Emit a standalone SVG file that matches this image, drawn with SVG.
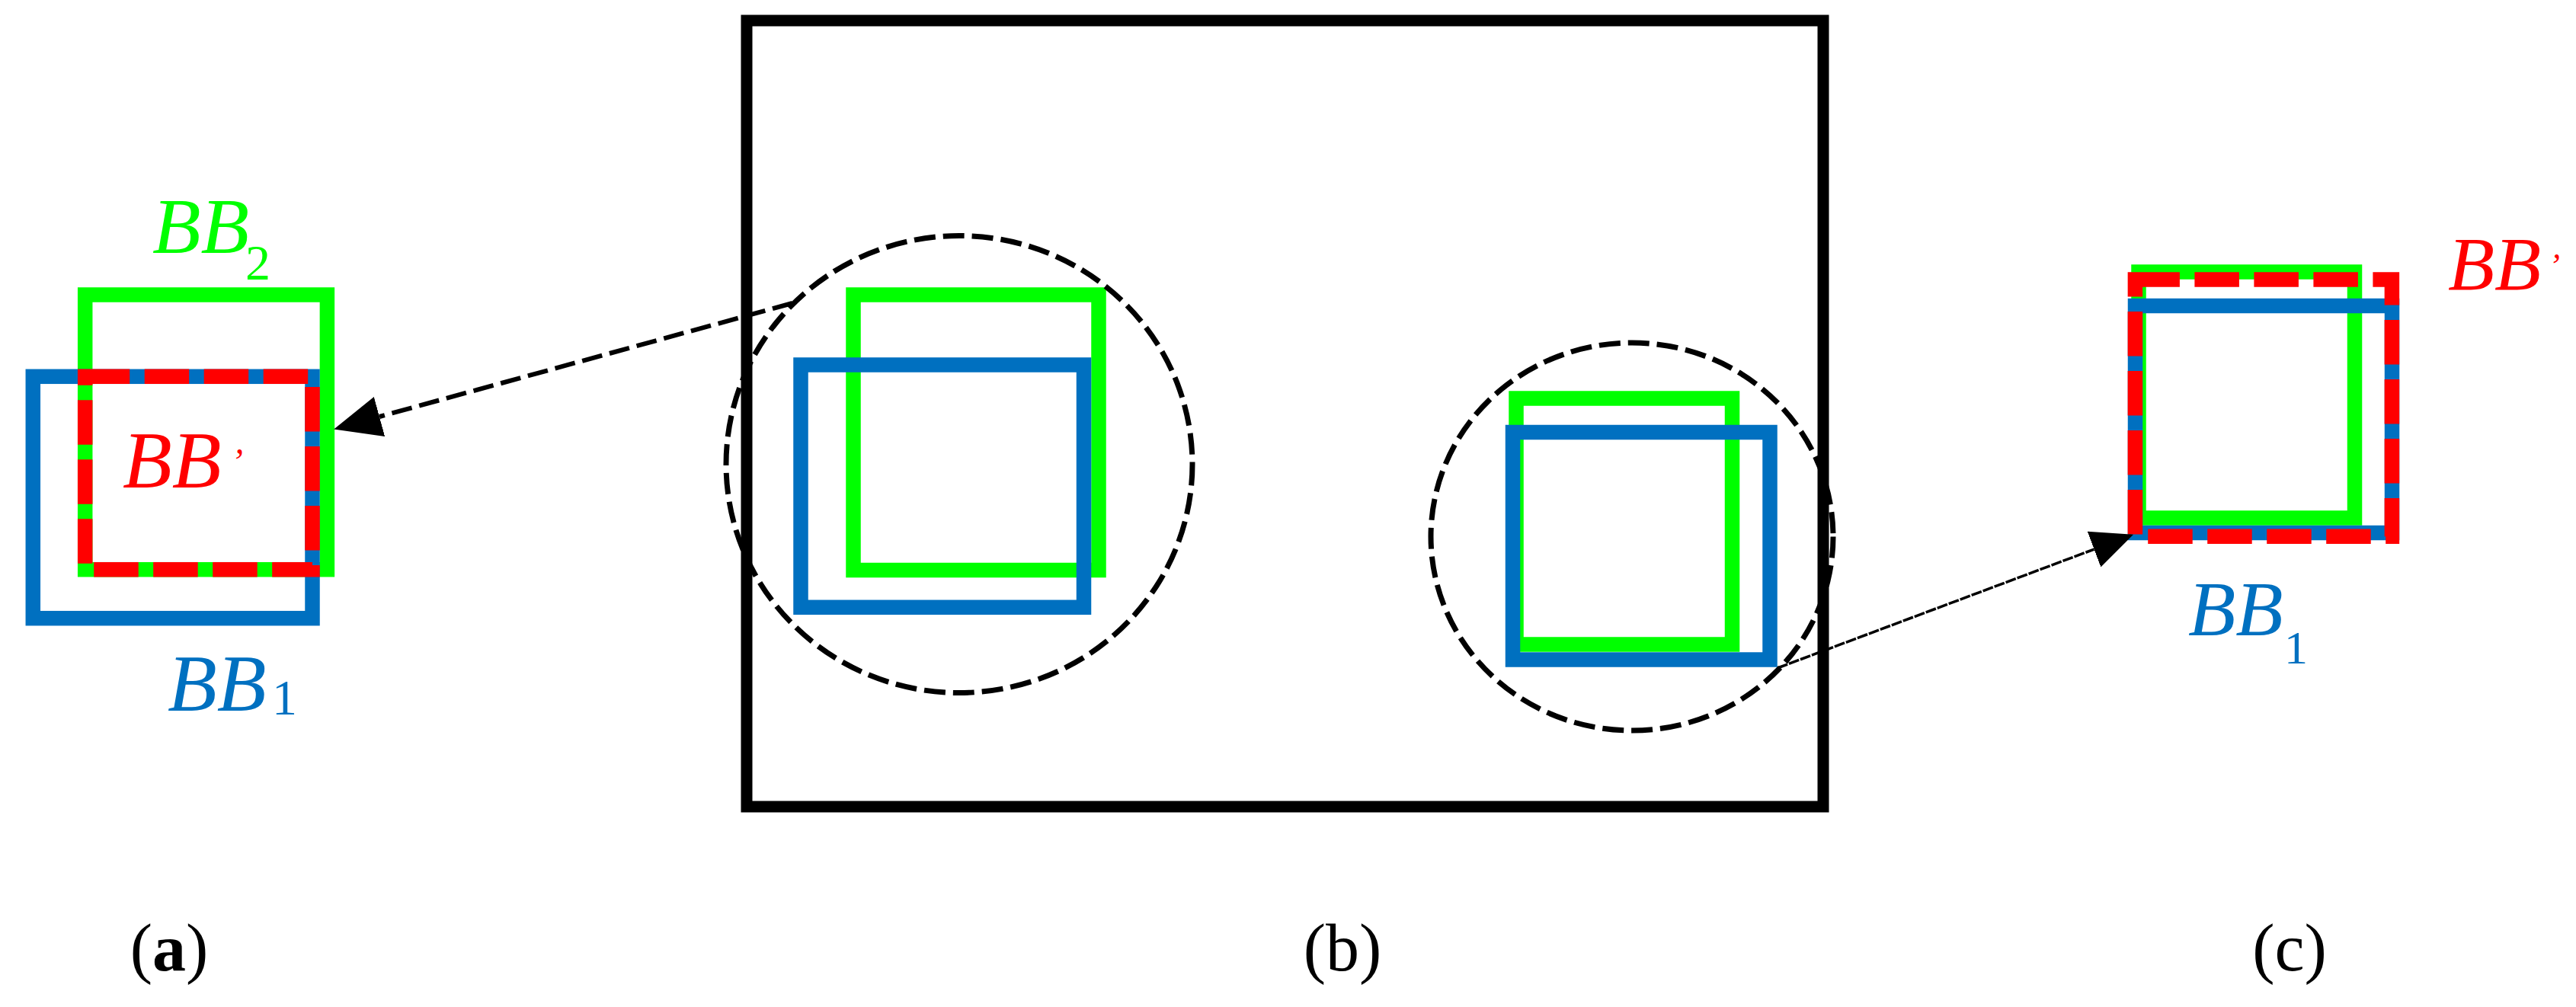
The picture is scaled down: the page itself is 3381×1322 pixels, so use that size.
<svg xmlns="http://www.w3.org/2000/svg" width="3381" height="1322" viewBox="0 0 3381 1322">
<style>
.g{fill:none;stroke:#00FF00;stroke-width:19.5}
.b{fill:none;stroke:#0070C0;stroke-width:19.5}
.r{fill:none;stroke:#FF0000;stroke-width:19.5;stroke-dasharray:58.5 19.5}
.frame{fill:none;stroke:#000;stroke-width:15}
.circ{fill:none;stroke:#000;stroke-width:7;stroke-dasharray:28 10}
.lbl{font-family:'Liberation Serif','Times New Roman',serif;font-style:italic}
.sub{font-style:normal}
.cap{font-family:'Liberation Serif','Times New Roman',serif;font-size:88px;fill:#000;text-anchor:middle}
</style>
<defs>
<marker id="ahL" markerUnits="userSpaceOnUse" markerWidth="62" markerHeight="54" viewBox="0 0 62 54" refX="0" refY="27" orient="auto"><path d="M0,0 L62,27 L0,54 z" fill="#000"/></marker>
<marker id="ahR" markerUnits="userSpaceOnUse" markerWidth="55" markerHeight="50" viewBox="0 0 55 50" refX="0" refY="25" orient="auto"><path d="M0,0 L55,25 L0,50 z" fill="#000"/></marker>
</defs>
<rect width="3381" height="1322" fill="#fff"/>

<g id="panel-a">
<rect class="g" x="111.7" y="387" width="317.7" height="360.7"/>
<rect class="b" x="43.3" y="494.3" width="366.7" height="317.4"/>
<rect class="r" x="111.7" y="494.3" width="298.3" height="253.4"/>
<text class="lbl" x="200" y="332" font-size="104" fill="#00FF00">BB<tspan class="sub" x="322" y="367" font-size="66">2</tspan></text>
<text class="lbl" x="161" y="640" font-size="106" fill="#FF0000">BB<tspan x="303" y="622" font-size="48">’</tspan></text>
<text class="lbl" x="220" y="933" font-size="106" fill="#0070C0">BB<tspan class="sub" x="357" y="938" font-size="66">1</tspan></text>
</g>

<g id="panel-b">
<rect id="image-frame" class="frame" x="980" y="27" width="1413" height="1032"/>
<g id="region-left">
<rect class="g" x="1120" y="387" width="322" height="361.5"/>
<rect class="b" x="1051" y="479" width="371.5" height="318.3"/>
<ellipse class="circ" cx="1259" cy="609.5" rx="306" ry="300"/>
</g>
<g id="region-right">
<rect class="g" x="1990" y="523" width="283.5" height="323"/>
<rect class="b" x="1985.5" y="567.5" width="337.5" height="298.5"/>
<ellipse class="circ" cx="2142" cy="704.5" rx="264" ry="254.5"/>
</g>
</g>

<g id="panel-c">
<rect class="g" x="2807" y="357" width="283.5" height="323"/>
<rect class="b" x="2802.5" y="401.5" width="337" height="298"/>
<rect class="r" x="2802.4" y="367" width="337" height="337.3"/>
<text class="lbl" x="3213" y="380" font-size="100" fill="#FF0000">BB<tspan x="3345" y="363" font-size="45">’</tspan></text>
<text class="lbl" x="2872" y="834" font-size="102" fill="#0070C0">BB<tspan class="sub" x="2998" y="871" font-size="62">1</tspan></text>
</g>

<g id="connectors">
<line x1="1040" y1="398" x2="498" y2="547" stroke="#000" stroke-width="6" stroke-dasharray="27 10" marker-end="url(#ahL)"/>
<line x1="2333" y1="877" x2="2748.5" y2="721.1" stroke="#000" stroke-width="3.5" stroke-dasharray="14 2" marker-end="url(#ahR)"/>
</g>

<g id="captions">
<text class="cap" x="222" y="1274">(<tspan font-weight="bold">a</tspan>)</text>
<text class="cap" x="1762" y="1274">(b)</text>
<text class="cap" x="3005" y="1274">(c)</text>
</g>
</svg>
